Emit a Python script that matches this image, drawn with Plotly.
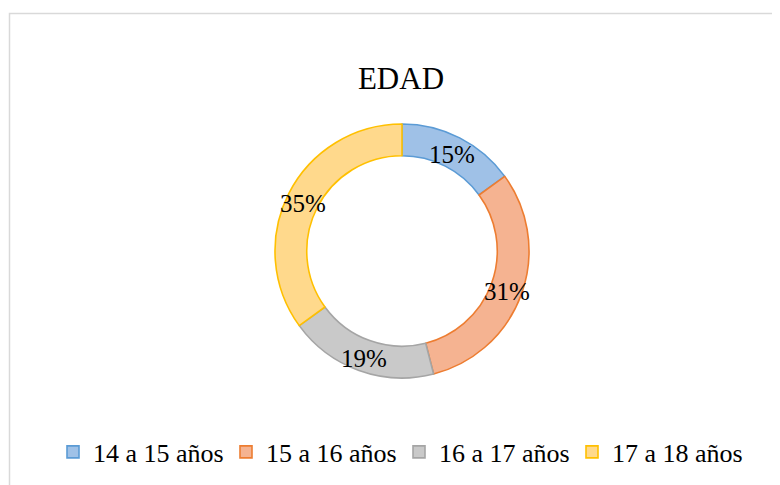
import math
import plotly.graph_objects as go

# Data
categories = ["14 a 15 años", "15 a 16 años", "16 a 17 años", "17 a 18 años"]
values = [15, 31, 19, 35]
title_text = "EDAD"

fill_colors = ["#9FC1E7", "#F5B391", "#C9C9C9", "#FFD98C"]
line_colors = ["#5B9BD5", "#ED7D31", "#A5A5A5", "#FFC000"]

W, H = 780, 485
OFF = 8  # page body margin offset
FONT = "Liberation Serif"

# donut geometry (pixels, in figure coordinates)
cx_px, cy_px = 402 - OFF, 251 - OFF
r_px = 127
hole = 0.75

dom_x = [(cx_px - r_px) / W, (cx_px + r_px) / W]
dom_y = [(H - cy_px - r_px) / H, (H - cy_px + r_px) / H]

fig = go.Figure()
fig.add_trace(go.Pie(
    labels=categories,
    values=values,
    hole=hole,
    sort=False,
    direction="clockwise",
    rotation=0,
    textinfo="none",
    hoverinfo="label+percent",
    marker=dict(colors=fill_colors, line=dict(color=line_colors, width=1.6)),
    domain=dict(x=dom_x, y=dom_y),
    showlegend=True,
))

# percentage labels placed at the middle of each ring segment
total = sum(values)
r_mid = r_px * (1 + hole) / 2
cum = 0
annotations = []
for v in values:
    frac_mid = (cum + v / 2) / total
    cum += v
    theta = 2 * math.pi * frac_mid
    px = cx_px + r_mid * math.sin(theta)
    py = cy_px - r_mid * math.cos(theta) + 2.5
    annotations.append(dict(
        x=px / W, y=(H - py) / H, xref="paper", yref="paper",
        text=f"{round(100 * v / total)}%", showarrow=False,
        xanchor="center", yanchor="middle",
        font=dict(family=FONT, size=25, color="#000000"),
    ))

fig.update_layout(
    width=W, height=H,
    margin=dict(l=0, r=0, t=0, b=0),
    paper_bgcolor="white",
    plot_bgcolor="white",
    font=dict(family=FONT, size=26, color="#000000"),
    title=dict(text=title_text, x=(401 - OFF) / W, xanchor="center", y=(H - 78 + OFF) / H, yanchor="middle",
               font=dict(family=FONT, size=31, color="#000000")),
    legend=dict(orientation="h", x=(399 - OFF) / W, xanchor="center", y=(H - 452 + OFF) / H, yanchor="middle",
                font=dict(family=FONT, size=26, color="#000000"),
                entrywidth=128, entrywidthmode="pixels",
                bgcolor="rgba(0,0,0,0)"),
    annotations=annotations,
    shapes=[dict(type="rect", xref="paper", yref="paper",
                 x0=(9.5 - OFF) / W, x1=1.05, y0=-0.05, y1=(H - 13.5 + OFF) / H,
                 line=dict(color="#D9D9D9", width=1.5), fillcolor="rgba(0,0,0,0)", layer="below")],
)

fig.write_html("out.html")
